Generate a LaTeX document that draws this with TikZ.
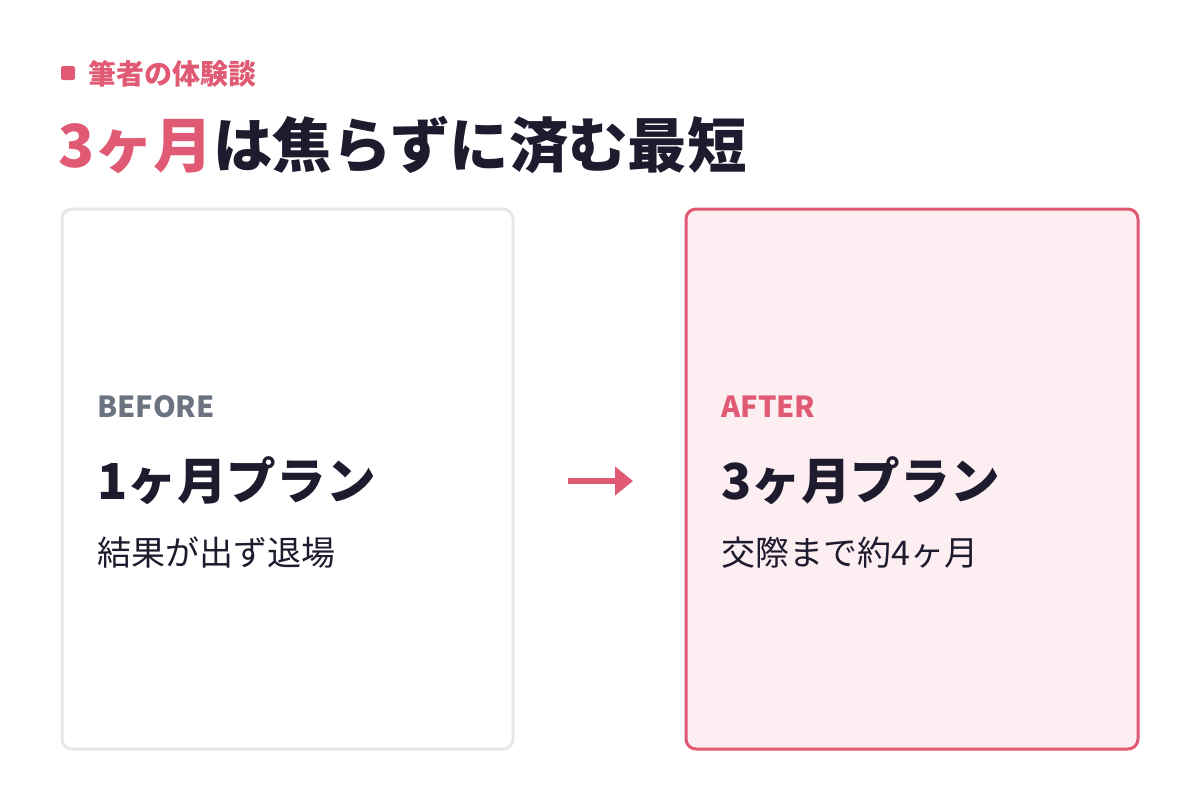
\documentclass[tikz,border=0pt]{standalone}
\usepackage{fontspec}
\usetikzlibrary{arrows.meta}
\setmainfont{Noto Sans CJK JP}
\definecolor{pink}{HTML}{E05A74}
\definecolor{dark}{HTML}{1E1B2E}
\definecolor{graytxt}{HTML}{6B7280}
\definecolor{grayline}{HTML}{E5E7EB}
\definecolor{pinkbg}{HTML}{FDEEF1}
\begin{document}
\begin{tikzpicture}[x=0.5pt,y=-0.5pt,
  lbl/.style={anchor=west,inner sep=0pt,font=\bfseries\fontsize{14.5}{17}\selectfont},
  plan/.style={anchor=west,inner sep=0pt,text=dark,font=\bfseries\fontsize{24.8}{28}\selectfont},
  sub/.style={anchor=west,inner sep=0pt,text=dark,font=\fontsize{17}{20}\selectfont},
  card/.style={rounded corners=5pt,line width=1.5pt}]
\useasboundingbox (0,0) rectangle (1200,800);
\fill[white] (0,0) rectangle (1200,800);
\node[fill=pink,minimum size=7pt,inner sep=0pt,rounded corners=0.8pt] (sq) at (68,73) {};
\node[anchor=west,inner sep=0pt,text=pink,font=\bfseries\fontsize{14}{16}\selectfont] (tag) at (88,74) {筆者の体験談};
\node[anchor=west,inner sep=0pt,text=dark,font=\bfseries\fontsize{29.7}{34}\selectfont] (title) at (58,145) {\textcolor{pink}{3ヶ月}は焦らずに済む最短};
\draw[card,draw=grayline,fill=white] (62,209) rectangle (513,749);
\draw[card,draw=pink,fill=pinkbg] (686,209) rectangle (1138,749);
\node[lbl,text=graytxt] (b1) at (97,407) {BEFORE};
\node[plan] (b2) at (97,481) {1ヶ月プラン};
\node[sub] (b3) at (97,553) {結果が出ず退場};
\node[lbl,text=pink] (a1) at (721,407) {AFTER};
\node[plan] (a2) at (721,481) {3ヶ月プラン};
\node[sub] (a3) at (721,553) {交際まで約4ヶ月};
\coordinate (s) at (568,481);
\coordinate (e) at (633,481);
\draw[pink,line width=2.6pt,-{Triangle[length=9pt,width=14pt]}] (s) -- (e);
\end{tikzpicture}
\end{document}
